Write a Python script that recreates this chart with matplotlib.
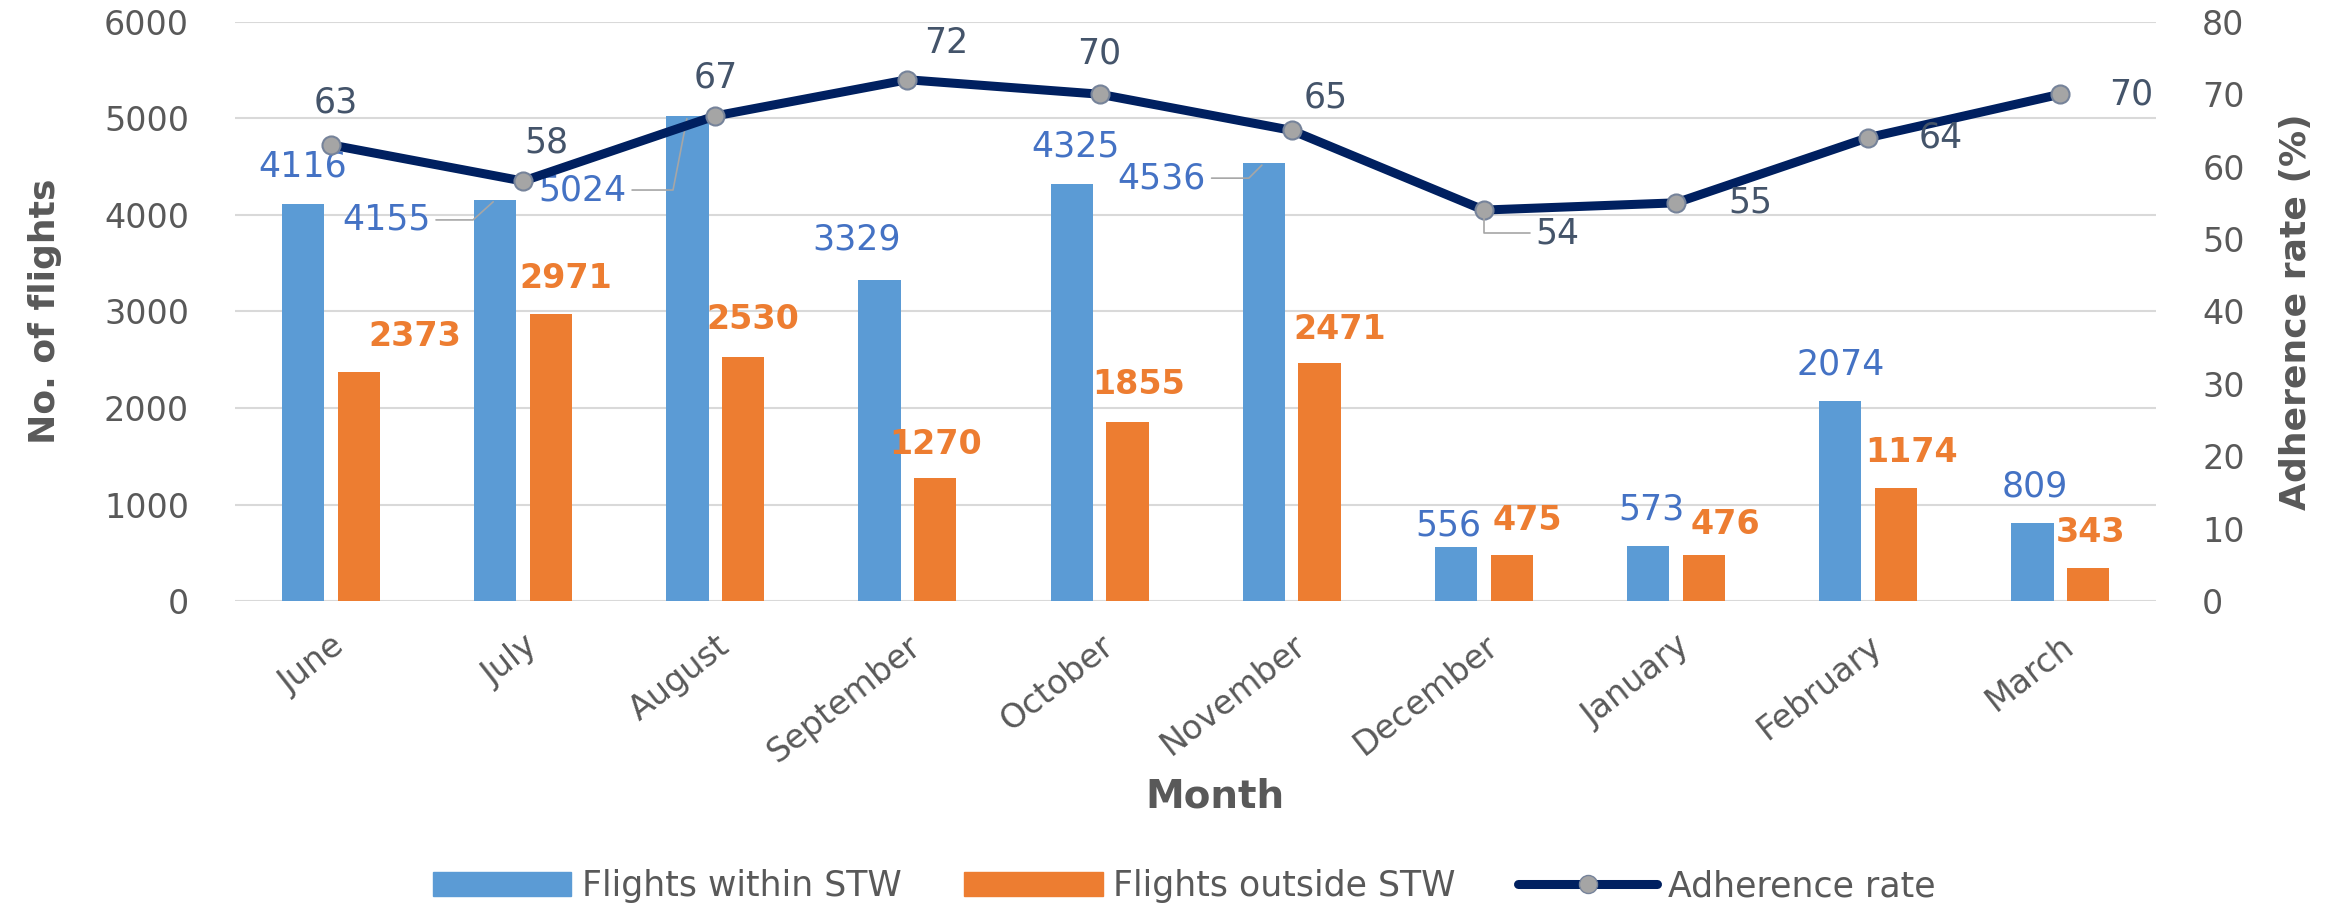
import numpy as np
import matplotlib.pyplot as plt
from matplotlib.lines import Line2D
from matplotlib.patches import Patch

# data
months = ['June', 'July', 'August', 'September', 'October', 'November',
          'December', 'January', 'February', 'March']
within_stw = [4116, 4155, 5024, 3329, 4325, 4536, 556, 573, 2074, 809]
outside_stw = [2373, 2971, 2530, 1270, 1855, 2471, 475, 476, 1174, 343]
adherence = [63, 58, 67, 72, 70, 65, 54, 55, 64, 70]

# label offsets (pixels) from bar top / marker
within_off = [(0, 37), (-109, -20), (-105, -74), (-23, 40), (4, 37),
              (-102, -15), (-8, 22), (3, 36), (0, 36), (2, 36)]
within_leader = [None, 42, 79, None, None, 45, None, None, None, None]
outside_off = [(56, 35), (15, 36), (10, 37), (0, 34), (11, 37),
               (20, 33), (16, 35), (22, 31), (16, 35), (2, 35)]
rate_off = [(5, 42), (23, 39), (0, 38), (39, 37), (0, 41),
            (34, 33), (74, -23), (74, 0), (73, 0), (71, 0)]

blue = '#5B9BD5'
orange = '#ED7D31'
navy = '#002060'
grey_txt = '#595959'

fig = plt.figure(figsize=(23.49, 9.08), dpi=100)
ax = fig.add_axes([0.100, 0.338, 0.818, 0.638])
ax2 = ax.twinx()

x = np.arange(len(months))
w = 0.22
ax.bar(x - 0.145, within_stw, w, color=blue, label='Flights within STW')
ax.bar(x + 0.145, outside_stw, w, color=orange, label='Flights outside STW')
ax2.plot(x, adherence, color=navy, lw=6.5, marker='o', markersize=13,
         markerfacecolor='#A5A5A5', markeredgecolor='#76839A', markeredgewidth=1.5,
         solid_capstyle='round', solid_joinstyle='round', label='Adherence rate')

# bar and line labels
for i in range(len(months)):
    dx, dy = within_off[i]
    kw = {}
    if within_leader[i] is not None:
        kw['arrowprops'] = dict(arrowstyle='-', color='#A6A6A6', lw=1.2,
                                connectionstyle='angle,angleA=0,angleB=%d,rad=0' % within_leader[i])
    ax.annotate(str(within_stw[i]), (x[i] - 0.145, within_stw[i]), xytext=(dx, dy),
                textcoords='offset pixels', ha='center', va='center',
                fontsize=25, color='#4472C4', **kw)
    dx, dy = outside_off[i]
    ax.annotate(str(outside_stw[i]), (x[i] + 0.145, outside_stw[i]), xytext=(dx, dy),
                textcoords='offset pixels', ha='center', va='center',
                fontsize=24, color=orange, fontweight='bold')
    dx, dy = rate_off[i]
    kw = {}
    if months[i] == 'December':
        kw['arrowprops'] = dict(arrowstyle='-', color='#A6A6A6', lw=1.2,
                                connectionstyle='angle,angleA=0,angleB=90,rad=0')
    ax2.annotate(str(adherence[i]), (x[i], adherence[i]), xytext=(dx, dy),
                 textcoords='offset pixels', ha='center', va='center',
                 fontsize=25, color='#44546A', **kw)

ax.set_xlim(-0.5, len(months) - 0.5)
ax.set_ylim(0, 6000)
ax.set_yticks(range(0, 6001, 1000))
ax2.set_ylim(0, 80)
ax2.set_yticks(range(0, 81, 10))

ax.yaxis.grid(True, color='#D9D9D9', lw=1.5)
ax.set_axisbelow(True)
for a in (ax, ax2):
    for s in a.spines.values():
        s.set_visible(False)
    a.tick_params(length=0, labelsize=24, labelcolor=grey_txt)
ax.tick_params(axis='y', pad=33)
ax2.tick_params(axis='y', pad=33)

ax.set_xticks(x)
ax.set_xticklabels(months, rotation=38, ha='right', va='top',
                   rotation_mode='anchor', fontsize=24)
ax.tick_params(axis='x', pad=20)

ax.set_ylabel('No. of flights', fontsize=26, fontweight='bold', color=grey_txt)
ax.yaxis.set_label_coords(-0.090, 0.5)
ax2.set_ylabel('Adherence rate (%)', fontsize=26, fontweight='bold', color=grey_txt)
ax2.yaxis.set_label_coords(1.064, 0.5)
ax.set_xlabel('Month', fontsize=28, fontweight='bold', color=grey_txt)
ax.xaxis.set_label_coords(0.51, -0.305)

handles = [Patch(color=blue), Patch(color=orange),
           Line2D([], [], color=navy, lw=6.5, marker='o', markersize=13,
                  markerfacecolor='#A5A5A5', markeredgecolor='#76839A',
                  solid_capstyle='round')]
labels = ['Flights within STW', 'Flights outside STW', 'Adherence rate']
leg = fig.legend(handles, labels, loc='center', bbox_to_anchor=(0.504, 0.024),
                 ncol=3, frameon=False, fontsize=25, handlelength=4.0,
                 handleheight=0.7, handletextpad=0.3, columnspacing=1.8)
for t in leg.get_texts():
    t.set_color(grey_txt)

fig.savefig('out.png', dpi=100)
